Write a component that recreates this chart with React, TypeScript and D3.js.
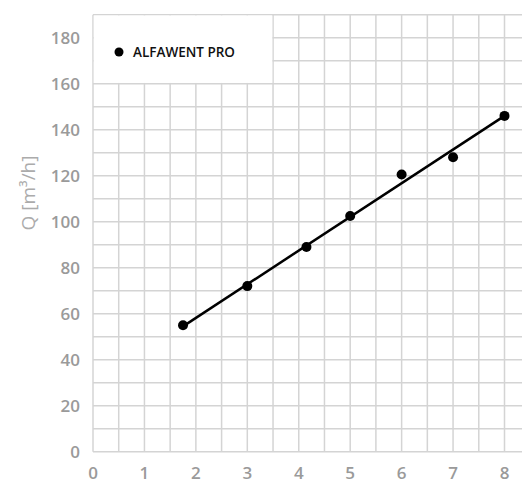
import React from "react";
import * as d3 from "d3";

const pointsX = [1.75, 3, 4.15, 5, 6, 7, 8];
const pointsQ = [55, 72, 89, 102.5, 120.5, 128, 146];
const lineX = [1.75, 8];
const lineQ = [54.5, 146];
const xTicks = [0, 1, 2, 3, 4, 5, 6, 7, 8];
const yTicks = [0, 20, 40, 60, 80, 100, 120, 140, 160, 180];
const legendLabel = "ALFAWENT PRO";
const yTitle = "Q [m³/h]";

export default function App() {
  const W = 522, H = 484;
  const x = d3.scaleLinear().domain([0, 8]).range([93, 504.5]);
  const y = d3.scaleLinear().domain([0, 190]).range([451.7, 14.7]);
  const font = "'Open Sans', 'Noto Sans', sans-serif";
  const grid = "#d4d4d4";

  const vLines = d3.range(0, 8.51, 0.5);
  const hLines = d3.range(0, 190.1, 10);
  const line = d3.line<number>().x((d, i) => x(lineX[i])).y((d, i) => y(lineQ[i]));

  return (
    <svg width={W} height={H} style={{ position: "absolute", left: 0, top: 0, background: "#fff" }}>
      <g>
        {vLines.map((v) => (
          <line key={"v" + v} x1={x(v)} x2={x(v)} y1={y(0)} y2={y(190)} stroke={grid} strokeWidth={1.5} />
        ))}
        {hLines.map((v) => (
          <line key={"h" + v} x1={x(0)} x2={W + 10} y1={y(v)} y2={y(v)} stroke={grid} strokeWidth={1.5} />
        ))}
        <rect x={x(0) + 0.75} y={y(190) + 0.75} width={x(3.5) - x(0) - 1.5} height={y(160) - y(190) - 1.5} fill="#fff" />
      </g>
      <g fill="#9a9a9a" fontFamily={font} fontSize={17} fontWeight={600}>
        {yTicks.map((t) => (
          <text key={"yt" + t} x={80} y={y(t)} textAnchor="end" dominantBaseline="central">{t}</text>
        ))}
        {xTicks.map((t) => (
          <text key={"xt" + t} x={x(t)} y={472} textAnchor="middle" dominantBaseline="central">{t}</text>
        ))}
        <text transform={`translate(28,193) rotate(-90)`} textAnchor="middle" dominantBaseline="central" fill="#ababab" fontWeight={400} fontSize={19}>{yTitle}</text>
      </g>
      <path d={line(lineQ) || ""} fill="none" stroke="#000" strokeWidth={2.5} />
      {pointsX.map((px, i) => (
        <circle key={"p" + i} cx={x(px)} cy={y(pointsQ[i])} r={5} fill="#000" />
      ))}
      <circle cx={119} cy={52} r={4.5} fill="#000" />
      <text x={133} y={52} dominantBaseline="central" fontFamily={font} fontSize={13.5} fontWeight={600} fill="#111">{legendLabel}</text>
    </svg>
  );
}
